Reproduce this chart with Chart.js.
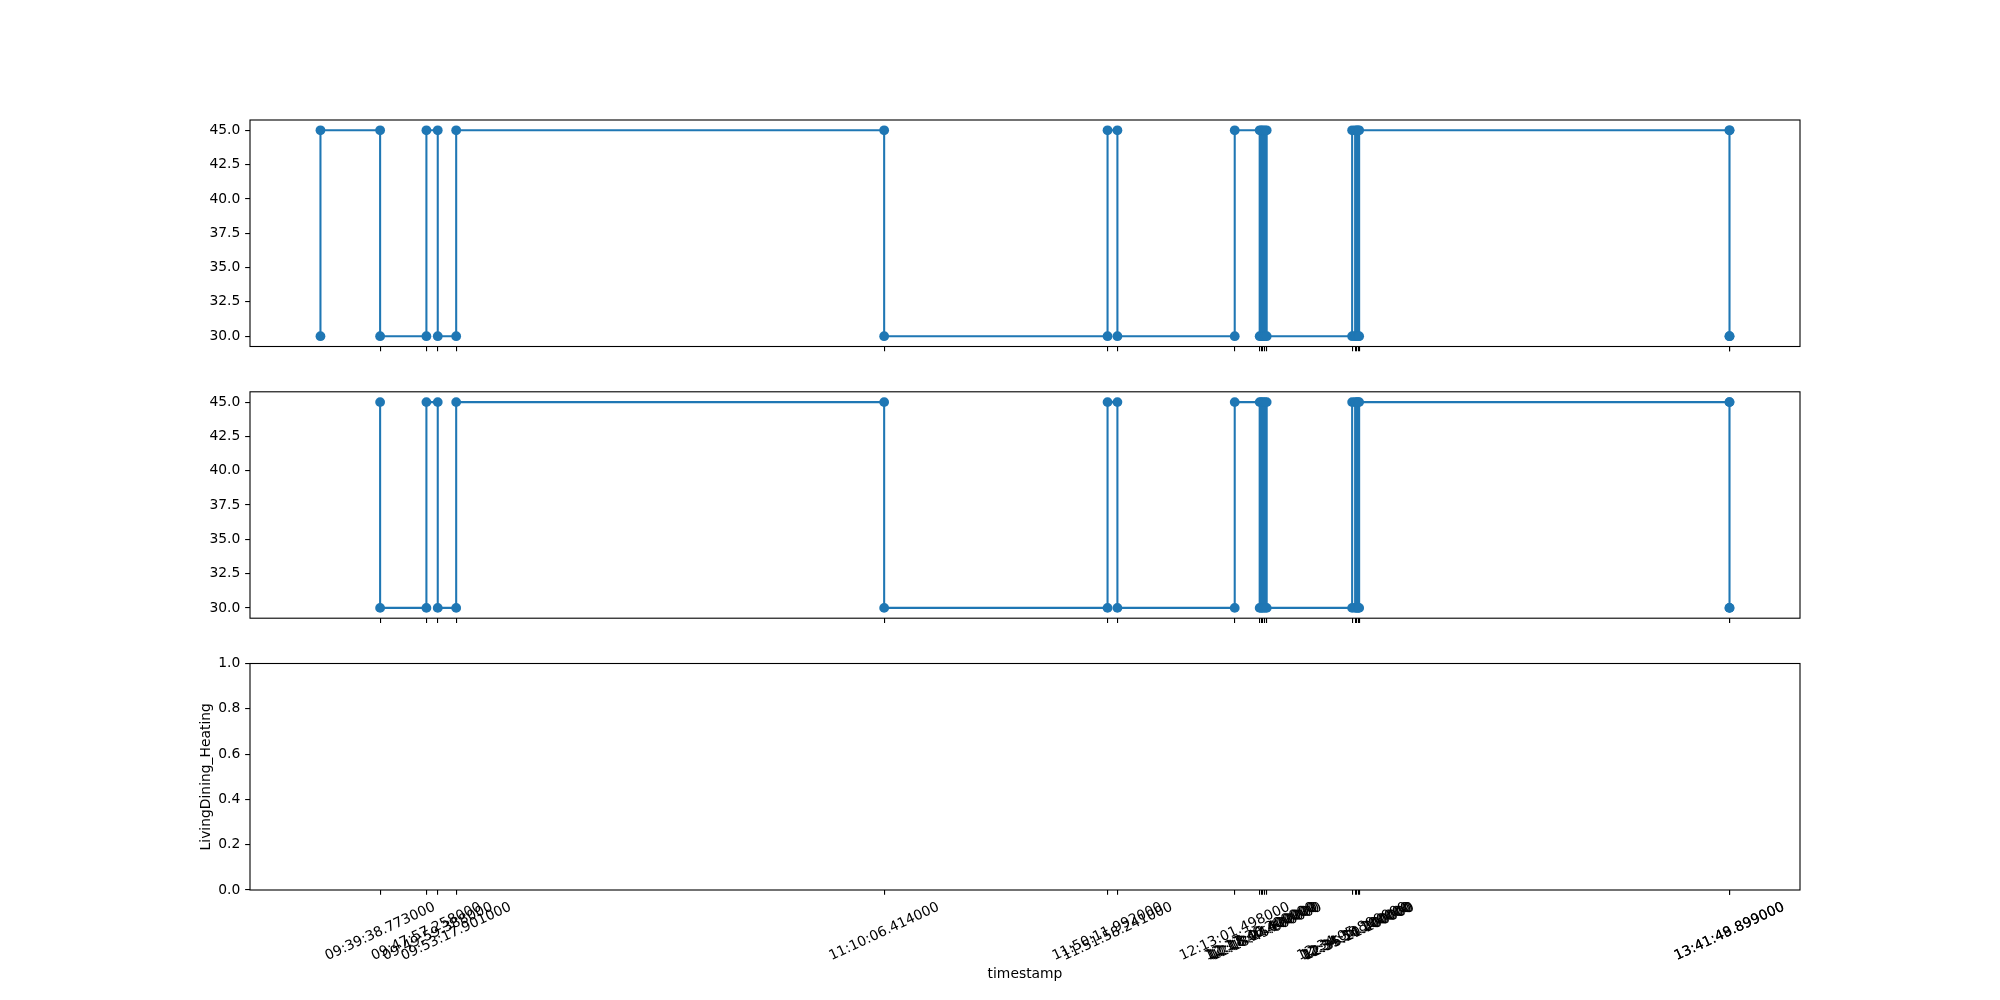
<!DOCTYPE html>
<html><head><meta charset="utf-8">
<script src="https://cdn.jsdelivr.net/npm/chart.js@4.4.1/dist/chart.umd.min.js"></script>
<style>
html,body{margin:0;padding:0;background:#fff;overflow:hidden;width:2000px;height:1000px;}
canvas{position:absolute;left:0;top:0;}
</style></head><body>
<canvas id="c1" width="2000" height="1000"></canvas>
<canvas id="c2" width="2000" height="1000"></canvas>
<canvas id="c3" width="2000" height="1000"></canvas>
<script>
// ---------------- DATA ----------------
const topTimes = [
"09:28:56.300000","09:28:56.300000",
"09:39:38.773000","09:39:38.773000",
"09:47:57.258000","09:47:57.258000",
"09:49:59.388000","09:49:59.388000",
"09:53:17.901000","09:53:17.901000",
"11:10:06.414000","11:10:06.414000",
"11:50:11.992000","11:50:11.992000",
"11:51:58.241000","11:51:58.241000",
"12:13:01.498000","12:13:01.498000",
"12:17:30.200000","12:17:30.200000",
"12:17:46.400000","12:17:46.400000",
"12:18:02.600000","12:18:02.600000",
"12:18:24.100000","12:18:24.100000",
"12:18:45.600000","12:18:45.600000",
"12:34:05.800000","12:34:05.800000",
"12:34:38.100000","12:34:38.100000",
"12:34:54.200000","12:34:54.200000",
"12:35:10.400000","12:35:10.400000",
"12:35:21.200000","12:35:21.200000",
"13:41:48.899000","13:41:48.899000",
"13:41:49.899000","13:41:49.899000"
];
const topValues = [
30,45, 45,30, 30,45, 45,30, 30,45, 45,30, 30,45, 45,30, 30,45, 45,30,
30,45, 45,30, 30,45, 45,30, 30,45, 45,30, 30,45, 45,30, 30,45, 45,30,
30,45
];
const midTimes = [
"09:39:38.773000","09:39:38.773000",
"09:47:57.258000","09:47:57.258000",
"09:49:59.388000","09:49:59.388000",
"09:53:17.901000","09:53:17.901000",
"11:10:06.414000","11:10:06.414000",
"11:50:11.992000","11:50:11.992000",
"11:51:58.241000","11:51:58.241000",
"12:13:01.498000","12:13:01.498000",
"12:17:30.200000","12:17:30.200000",
"12:17:46.400000","12:17:46.400000",
"12:18:02.600000","12:18:02.600000",
"12:18:24.100000","12:18:24.100000",
"12:18:45.600000","12:18:45.600000",
"12:34:05.800000","12:34:05.800000",
"12:34:38.100000","12:34:38.100000",
"12:34:54.200000","12:34:54.200000",
"12:35:10.400000","12:35:10.400000",
"12:35:21.200000","12:35:21.200000",
"13:41:48.899000","13:41:48.899000",
"13:41:49.899000","13:41:49.899000"
];
const midValues = [
45,30, 30,45, 45,30, 30,45, 45,30, 30,45, 45,30, 30,45, 45,30, 30,45,
45,30, 30,45, 45,30, 30,45, 45,30, 30,45, 45,30, 30,45, 45,30, 30,45
];
const tickLabels = [
"09:39:38.773000","09:47:57.258000","09:49:59.388000","09:53:17.901000",
"11:10:06.414000","11:50:11.992000","11:51:58.241000","12:13:01.498000",
"12:17:30.200000","12:17:46.400000","12:18:02.600000","12:18:24.100000","12:18:45.600000",
"12:34:05.800000","12:34:38.100000","12:34:54.200000","12:35:10.400000","12:35:21.200000",
"13:41:48.899000","13:41:49.899000"
];
const tempTicks = [30, 32.5, 35, 37.5, 40, 42.5, 45];
const bottomTicks = [0, 0.2, 0.4, 0.6, 0.8, 1.0];
const bottomYLabel = "LivingDining_Heating";
const xAxisLabel = "timestamp";

// ---------------- HELPERS ----------------
function toSec(s){ const p = s.split(':'); return (+p[0])*3600 + (+p[1])*60 + parseFloat(p[2]); }

Chart.defaults.font.family = "'DejaVu Sans', sans-serif";
Chart.defaults.font.size = 13.89;
Chart.defaults.color = '#000';

const allSecs = topTimes.concat(midTimes).map(toSec);
const tMin = Math.min(...allSecs), tMax = Math.max(...allSecs);
const span = tMax - tMin;
const xMin = tMin - 0.05*span, xMax = tMax + 0.05*span;

function padRange(vals){ const lo=Math.min(...vals), hi=Math.max(...vals), m=0.05*(hi-lo); return [lo-m, hi+m]; }
const topRange = padRange(topValues);
const midRange = padRange(midValues);

const BLUE = '#1f77b4';
const TICKLEN = 4.86, TICKW = 1.1;

const framePlugin = {
  id: 'frame',
  afterDraw(chart){
    const {ctx, chartArea:a} = chart;
    ctx.save();
    ctx.strokeStyle = '#000';
    ctx.lineWidth = 1.1;
    ctx.strokeRect(a.left, a.top, a.right-a.left, a.bottom-a.top);
    ctx.restore();
  }
};

const xLabelPlugin = {
  id: 'xlabels',
  afterDraw(chart){
    const sc = chart.scales.x;
    const ctx = chart.ctx;
    ctx.save();
    ctx.font = "13.89px 'DejaVu Sans'";
    ctx.fillStyle = '#000';
    ctx.textAlign = 'center';
    ctx.textBaseline = 'middle';
    const th = 25*Math.PI/180;
    const h = 15;
    const y0 = chart.chartArea.bottom + TICKLEN + 4.86;
    sc.ticks.forEach(t => {
      const label = t.label;
      const w = ctx.measureText(label).width;
      const H = w*Math.sin(th) + h*Math.cos(th);
      const cx = sc.getPixelForValue(t.value);
      const cy = y0 + H/2;
      ctx.save();
      ctx.translate(cx, cy);
      ctx.rotate(-th);
      ctx.fillText(label, 0, 0);
      ctx.restore();
    });
    ctx.restore();
  }
};

function xScale(showTitle){
  return {
    type: 'linear', position: 'bottom', min: xMin, max: xMax, bounds: 'data',
    afterBuildTicks: s => { s.ticks = tickLabels.map(l => ({value: toSec(l)})); },
    afterFit: s => { s.height = showTitle ? 100 : 10; },
    ticks: { display: false, autoSkip: false, callback: (v, i) => tickLabels[i] },
    grid: { display: true, drawOnChartArea: false, drawTicks: true, tickLength: TICKLEN,
            tickWidth: TICKW, tickColor: '#000', color: '#000', lineWidth: TICKW },
    border: { display: false },
    title: showTitle ? { display: true, text: xAxisLabel, color: '#000', font: {size: 13.89},
                         padding: {top: 0, bottom: 7.67} } : { display: false }
  };
}
function yScale(range, tickVals, title){
  return {
    type: 'linear', position: 'left', min: range[0], max: range[1], bounds: 'data',
    afterBuildTicks: s => { s.ticks = tickVals.map(v => ({value: v})); },
    afterFit: s => { s.width = 60; },
    ticks: { color: '#000', padding: 4.86, autoSkip: false, callback: v => Number(v).toFixed(1), font: {size: 13.89} },
    grid: { display: true, drawOnChartArea: false, drawTicks: true, tickLength: TICKLEN,
            tickWidth: TICKW, tickColor: '#000', color: '#000', lineWidth: TICKW },
    border: { display: false },
    title: title ? { display: true, text: title, color: '#000', font: {size: 13.89},
                     padding: {top: 7.67, bottom: 0} } : { display: false }
  };
}
function ds(times, vals){
  return {
    data: times.map((t, i) => ({x: toSec(t), y: vals[i]})),
    showLine: true, borderColor: BLUE, backgroundColor: BLUE, borderWidth: 2.08,
    pointRadius: 4.9, pointHoverRadius: 4.9, pointBorderWidth: 0, pointBackgroundColor: BLUE,
    tension: 0
  };
}
function makeChart(id, datasets, yRange, yTickVals, yTitle, xTitle, top, bottom, xH){
  return new Chart(document.getElementById(id), {
    type: 'scatter',
    data: { datasets },
    options: {
      responsive: false, animation: false, devicePixelRatio: 1, events: [],
      layout: { padding: { left: 190, right: 200, top: top, bottom: 1000 - bottom - xH } },
      plugins: { legend: {display: false}, tooltip: {enabled: false} },
      scales: { x: xScale(xTitle), y: yScale(yRange, yTickVals, yTitle) }
    },
    plugins: xTitle ? [framePlugin, xLabelPlugin] : [framePlugin]
  });
}

makeChart('c1', [ds(topTimes, topValues)], topRange, tempTicks, null, false, 120, 346.5, 10);
makeChart('c2', [ds(midTimes, midValues)], midRange, tempTicks, null, false, 391.8, 618.2, 10);
makeChart('c3', [], [0, 1], bottomTicks, bottomYLabel, true, 663.5, 890, 100);
</script>
</body></html>
